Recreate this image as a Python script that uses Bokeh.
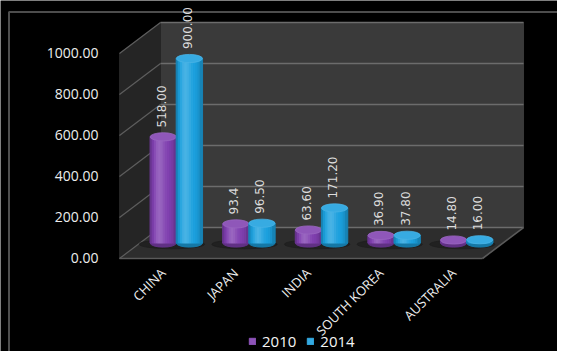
import math
from bokeh.plotting import figure
from bokeh.models import (FixedTicker, NumeralTickFormatter, Range1d,
                          Legend, LegendItem, BoxAnnotation)
from bokeh.core.properties import value
from bokeh.embed import file_html
from bokeh.resources import INLINE

# ---------------- data ----------------
categories = ["CHINA", "JAPAN", "INDIA", "SOUTH KOREA", "AUSTRALIA"]
v2010 = [518.00, 93.4, 63.60, 36.90, 14.80]
v2014 = [900.00, 96.50, 171.20, 37.80, 16.00]
labels2010 = ["518.00", "93.4", "63.60", "36.90", "14.80"]
labels2014 = ["900.00", "96.50", "171.20", "37.80", "16.00"]
series_names = ["2010", "2014"]
y_ticks = [0, 200, 400, 600, 800, 1000]

# ---------------- style constants ----------------
PURPLE = (0x80, 0x40, 0xB0)
BLUE = (0x1C, 0xA0, 0xDE)
DX, DY = 0.565, 151.0      # pseudo-3D depth offset (x in category units, y in value units)
BAR_W = 0.36
ELL_H = 40.0
N_STRIPS = 12
X0, XR = -0.5, 4.5
YMAX = 1000
LABEL_SHIFT = 0.1          # rotated category labels end slightly right of the slot centre


def shade(rgb, f):
    if f >= 0:
        r = [c + (255 - c) * f for c in rgb]
    else:
        r = [c * (1 + f) for c in rgb]
    return "#%02x%02x%02x" % tuple(int(round(max(0, min(255, c)))) for c in r)


p = figure(width=557, height=351,
           x_range=Range1d(-2.139, 5.533), y_range=Range1d(-453.7, 1258.5),
           output_backend="svg", toolbar_location=None,
           min_border_left=0, min_border_right=0, min_border_top=0, min_border_bottom=0,
           background_fill_color="black", border_fill_color="black",
           outline_line_color=None)
p.xgrid.visible = False
p.ygrid.visible = False

# white frame line (top/left) as in the source picture
p.add_layout(BoxAnnotation(left=8.5, right=3000, top=11.5, bottom=3000,
                           left_units="canvas", right_units="canvas",
                           top_units="canvas", bottom_units="canvas",
                           fill_alpha=0, line_color="#ffffff", line_width=2,
                           level="overlay"))

# ---------------- 3D walls ----------------
p.quad(left=X0 + DX, right=XR + DX, bottom=DY, top=YMAX + DY, color="#3a3a3a")
p.patch([X0, X0 + DX, X0 + DX, X0], [0, DY, YMAX + DY, YMAX], color="#252525")
p.patch([X0, XR, XR + DX, X0 + DX], [0, 0, DY, DY], color="#2d2d2d")
p.segment(x0=[X0 + DX] * len(y_ticks), y0=[t + DY for t in y_ticks],
          x1=[XR + DX] * len(y_ticks), y1=[t + DY for t in y_ticks],
          line_color="#6c6c6c", line_width=1.6)
p.segment(x0=[X0] * len(y_ticks), y0=y_ticks,
          x1=[X0 + DX] * len(y_ticks), y1=[t + DY for t in y_ticks],
          line_color="#5e5e5e", line_width=1.2)
p.segment(x0=[X0, XR], y0=[0, 0], x1=[XR, XR + DX], y1=[0, DY],
          line_color="#5a5a5a", line_width=1.6)

# ---------------- cylinders ----------------
base = DY / 2
idx = list(range(len(categories)))
p.ellipse(x=[i + DX / 2 - 0.06 for i in idx], y=[base - 6] * len(idx),
          width=0.9, height=44, color="#1e1e1e", alpha=0.8)

legend_renderers = []
for vals, labels, rgb, off in [(v2010, labels2010, PURPLE, -BAR_W / 2),
                               (v2014, labels2014, BLUE, BAR_W / 2)]:
    centers = [i + DX / 2 + off for i in idx]
    tops = [base + v for v in vals]
    p.ellipse(x=centers, y=[base] * len(idx), width=BAR_W, height=ELL_H,
              color=shade(rgb, -0.25))
    mid_renderer = None
    for k in range(N_STRIPS):
        t = (k + 0.5) / N_STRIPS * 2 - 1
        f = 0.2 * math.exp(-((t + 0.25) / 0.4) ** 2) - 0.26 * t ** 4
        xs = [c - BAR_W / 2 + (k + 0.5) * BAR_W / N_STRIPS for c in centers]
        r = p.vbar(x=xs, bottom=[base] * len(idx), top=tops,
                   width=BAR_W / N_STRIPS * 1.1, color=shade(rgb, f))
        if k == N_STRIPS // 2:
            mid_renderer = r
    legend_renderers.append(mid_renderer)
    p.ellipse(x=centers, y=tops, width=BAR_W, height=ELL_H,
              fill_color=shade(rgb, 0.12), line_color=shade(rgb, 0.2), line_width=0.8)
    p.text(x=[c - 0.03 for c in centers], y=[tp + ELL_H / 2 + 26 for tp in tops],
           text=labels, angle=math.pi / 2, text_align="left", text_baseline="middle",
           text_font=value("DejaVu Sans"), text_font_size="12px", text_color="#dcdcdc")

# ---------------- axes ----------------
p.yaxis.fixed_location = X0
p.yaxis.ticker = FixedTicker(ticks=y_ticks)
p.yaxis.formatter = NumeralTickFormatter(format="0.00")
p.yaxis.axis_line_color = None
p.yaxis.major_tick_line_color = None
p.yaxis.minor_tick_line_color = None
p.yaxis.major_label_standoff = 15
p.yaxis.major_label_text_font = "Open Sans"
p.yaxis.major_label_text_font_size = "14px"
p.yaxis.major_label_text_color = "#ededed"

x_ticks = [i + LABEL_SHIFT for i in idx]
p.xaxis.fixed_location = 0
p.xaxis.ticker = FixedTicker(ticks=x_ticks)
p.xaxis.major_label_overrides = {t: c for t, c in zip(x_ticks, categories)}
p.xaxis.axis_line_color = None
p.xaxis.major_tick_line_color = None
p.xaxis.minor_tick_line_color = None
p.xaxis.major_label_orientation = math.pi / 4
p.xaxis.major_label_standoff = 6
p.xaxis.major_label_text_font = "Open Sans"
p.xaxis.major_label_text_font_size = "13px"
p.xaxis.major_label_text_color = "#f0f0f0"

# ---------------- legend ----------------
legend = Legend(items=[LegendItem(label=series_names[0], renderers=[legend_renderers[0]]),
                       LegendItem(label=series_names[1], renderers=[legend_renderers[1]])],
                location=(248, 0), orientation="horizontal",
                background_fill_alpha=0.0,
                border_line_color=None, label_text_color="#f5f5f5",
                label_text_font="Open Sans", label_text_font_size="15px",
                glyph_width=8, glyph_height=8, label_standoff=6, spacing=10,
                padding=1, margin=0)
p.add_layout(legend)

open("out.html", "w").write(file_html(p, INLINE))
